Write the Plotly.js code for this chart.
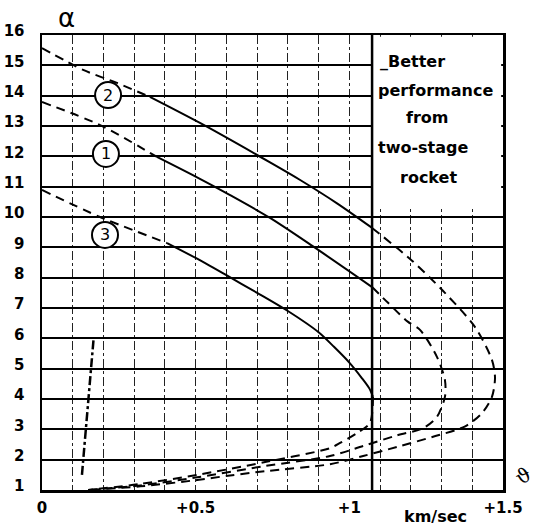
<!DOCTYPE html>
<html>
<head>
<meta charset="utf-8">
<script src="https://cdn.plot.ly/plotly-3.0.1.min.js"></script>
<style>html,body{margin:0;padding:0;background:#fff;}#chart{width:535px;height:525px;}</style>
</head>
<body>
<div id="chart"></div>
<script>
// ---- data ----
// curve 2 (outer)
const c2UpperX = [0.000, 0.134, 0.244, 0.351];
const c2UpperY = [15.57, 14.85, 14.42, 13.96];
const c2SolidX = [0.351, 0.514, 0.742, 0.840, 0.960, 1.074];
const c2SolidY = [13.96, 13.10, 11.80, 11.22, 10.45, 9.64];
const c2LowerX = [1.074, 1.204, 1.311, 1.409, 1.464, 1.474, 1.464, 1.432, 1.377, 1.270, 1.155, 1.045, 0.937, 0.726, 0.612, 0.505, 0.320, 0.150];
const c2LowerY = [9.64, 8.56, 7.50, 6.37, 5.29, 4.70, 4.07, 3.54, 3.10, 2.75, 2.42, 2.12, 1.85, 1.62, 1.48, 1.33, 1.12, 1.00];
// curve 1 (middle)
const c1UpperX = [0.000, 0.189, 0.374];
const c1UpperY = [13.79, 13.03, 11.98];
const c1SolidX = [0.374, 0.500, 0.612, 0.742, 0.882, 1.074];
const c1SolidY = [11.98, 11.33, 10.72, 9.97, 9.03, 7.69];
const c1LowerX = [1.074, 1.126, 1.190, 1.230, 1.285, 1.311, 1.311, 1.285, 1.240, 1.155, 1.045, 0.937, 0.726, 0.505, 0.320, 0.150];
const c1LowerY = [7.69, 7.17, 6.55, 6.28, 5.39, 4.63, 4.07, 3.41, 3.04, 2.80, 2.45, 2.12, 1.79, 1.42, 1.15, 1.00];
// curve 3 (inner)
const c3UpperX = [0.000, 0.189, 0.407];
const c3UpperY = [10.89, 10.00, 9.14];
const c3SolidX = [0.407, 0.500, 0.600, 0.700, 0.800, 0.900, 0.950, 1.000, 1.040, 1.065, 1.077];
const c3SolidY = [9.14, 8.65, 8.08, 7.50, 6.90, 6.20, 5.72, 5.20, 4.70, 4.35, 4.07];
const c3LowerX = [1.077, 1.067, 1.025, 0.970, 0.937, 0.726, 0.505, 0.320, 0.150];
const c3LowerY = [4.07, 3.21, 2.88, 2.55, 2.38, 1.92, 1.50, 1.20, 1.00];
// stray dash-dot mark near the left
const markX = [0.130, 0.150, 0.168];
const markY = [1.50, 4.00, 6.00];
// boundary of two-stage advantage
const boundaryX = [1.074];
// labels
const curveLabels = ['2', '1', '3'];
const curveLabelX = [0.215, 0.208, 0.205];
const curveLabelY = [14.02, 12.08, 9.41];
const noteLines = ['_Better', 'performance', 'from', 'two-stage', 'rocket'];
const noteX = [1.204, 1.279, 1.253, 1.240, 1.256];
const noteY = [15.14, 14.16, 13.27, 12.28, 11.29];
const xTickVals = [0, 0.1, 0.2, 0.3, 0.4, 0.5, 0.6, 0.7, 0.8, 0.9, 1.0, 1.1, 1.2, 1.3, 1.4, 1.5];
const xTickText = ['0', '', '', '', '', '+0.5', '', '', '', '', '+1', '', '', '', '', '+1.5'];
const yTickVals = [1, 2, 3, 4, 5, 6, 7, 8, 9, 10, 11, 12, 13, 14, 15, 16];

const DASH = '9px,6px';
function seg(x, y, dash) {
  return {x: x, y: y, type: 'scatter', mode: 'lines', hoverinfo: 'skip',
          line: {color: '#000', width: 2, dash: dash, shape: 'spline', smoothing: 0.8}};
}
const traces = [
  seg(c2UpperX, c2UpperY, DASH), seg(c2SolidX, c2SolidY, 'solid'), seg(c2LowerX, c2LowerY, DASH),
  seg(c1UpperX, c1UpperY, DASH), seg(c1SolidX, c1SolidY, 'solid'), seg(c1LowerX, c1LowerY, DASH),
  seg(c3UpperX, c3UpperY, DASH), seg(c3SolidX, c3SolidY, 'solid'), seg(c3LowerX, c3LowerY, DASH),
  {x: markX, y: markY, type: 'scatter', mode: 'lines', hoverinfo: 'skip',
   line: {color: '#000', width: 2.5, dash: 'dashdot'}}
];

const FONT = 'DejaVu Sans, sans-serif';
const shapes = [
  {type: 'rect', xref: 'x', yref: 'y', x0: boundaryX[0], x1: 1.494, y0: 10.3, y1: 15.94,
   fillcolor: '#fff', line: {width: 0}, layer: 'above'},
  {type: 'line', xref: 'x', yref: 'y', x0: boundaryX[0], x1: boundaryX[0], y0: 1, y1: 16,
   line: {color: '#000', width: 2.5}}
];
const annotations = [];
curveLabels.forEach((t, i) => {
  shapes.push({type: 'circle', xref: 'x', yref: 'y', xsizemode: 'pixel', ysizemode: 'pixel',
    xanchor: curveLabelX[i], yanchor: curveLabelY[i], x0: -13, x1: 13, y0: -13, y1: 13,
    fillcolor: '#fff', line: {color: '#000', width: 2}, layer: 'above'});
  annotations.push({x: curveLabelX[i], y: curveLabelY[i], xref: 'x', yref: 'y', text: t,
    showarrow: false, xanchor: 'center', yanchor: 'middle',
    font: {family: FONT, size: 16, color: '#000'}});
});
noteLines.forEach((t, i) => {
  annotations.push({x: noteX[i], y: noteY[i], xref: 'x', yref: 'y', text: t, showarrow: false,
    xanchor: 'center', yanchor: 'middle',
    font: {family: FONT, size: 16, color: '#000', weight: 'bold'}});
});
annotations.push({x: 66, y: 18, text: 'α', showarrow: false,
  font: {family: 'DejaVu Sans, sans-serif', size: 26, color: '#000'}});
annotations.push({x: 435, y: 516, text: 'km/sec', showarrow: false,
  font: {family: FONT, size: 16, color: '#000', weight: 'bold'}});
annotations.push({x: 523, y: 476, text: 'ϑ', showarrow: false, textangle: -30,
  font: {family: 'DejaVu Serif, serif', size: 20, color: '#000'}});

// convert pixel-positioned annotations to paper coords
const W = 535, H = 525, L = 42, R = 32, T = 35, B = 35;
annotations.forEach(a => {
  if (a.xref !== 'x') {
    a.xref = 'paper'; a.yref = 'paper';
    a.xanchor = 'center'; a.yanchor = 'middle';
    a.x = (a.x - L) / (W - L - R);
    a.y = 1 - (a.y - T) / (H - T - B);
  }
});

const layout = {
  width: W, height: H,
  margin: {l: L, r: R, t: T, b: B, pad: 0},
  paper_bgcolor: '#fff', plot_bgcolor: '#fff',
  showlegend: false,
  xaxis: {
    range: [0, 1.5], tickmode: 'array', tickvals: xTickVals, ticktext: xTickText,
    showgrid: true, gridcolor: '#222', gridwidth: 1, griddash: 'dashdot',
    zeroline: false, showline: true, mirror: true, linecolor: '#000', linewidth: 2.5,
    ticks: '', ticklabelstandoff: 2,
    tickfont: {family: FONT, size: 15, color: '#000', weight: 'bold'}
  },
  yaxis: {
    range: [1, 16], tickmode: 'array', tickvals: yTickVals,
    showgrid: true, gridcolor: '#000', gridwidth: 2,
    zeroline: false, showline: true, mirror: true, linecolor: '#000', linewidth: 2.5,
    ticks: '', ticklabelstandoff: 12, ticklabelshift: -4,
    tickfont: {family: FONT, size: 15, color: '#000', weight: 'bold'}
  },
  shapes: shapes,
  annotations: annotations
};

Plotly.newPlot('chart', traces, layout, {staticPlot: true, displayModeBar: false});
</script>
</body>
</html>
